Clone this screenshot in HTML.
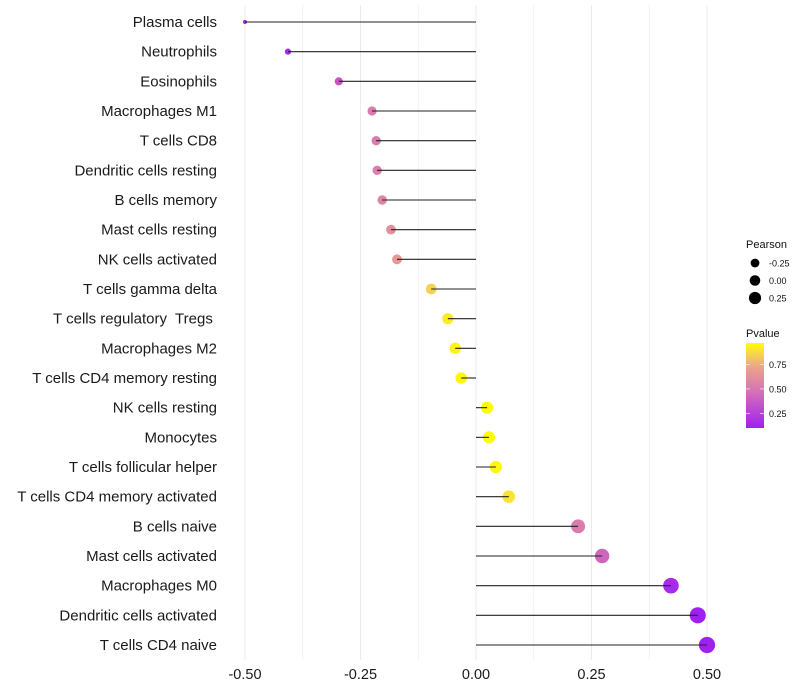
<!DOCTYPE html>
<html><head><meta charset="utf-8"><style>
body{margin:0;background:#fff;font-family:"Liberation Sans",Arial,sans-serif}
svg{display:block}
text{white-space:pre}
</style></head><body>
<svg id="chart" width="800" height="700"></svg>
<script>
const cells=["Plasma cells","Neutrophils","Eosinophils","Macrophages M1","T cells CD8","Dendritic cells resting","B cells memory","Mast cells resting","NK cells activated","T cells gamma delta","T cells regulatory  Tregs ","Macrophages M2","T cells CD4 memory resting","NK cells resting","Monocytes","T cells follicular helper","T cells CD4 memory activated","B cells naive","Mast cells activated","Macrophages M0","Dendritic cells activated","T cells CD4 naive"];
const pearson=[-0.50,-0.407,-0.297,-0.225,-0.216,-0.214,-0.203,-0.184,-0.171,-0.097,-0.061,-0.045,-0.032,0.024,0.028,0.043,0.071,0.221,0.273,0.422,0.48,0.50];
const pvalue=[0.10,0.15,0.35,0.52,0.52,0.54,0.57,0.62,0.67,0.85,0.92,0.94,0.95,0.96,0.98,0.95,0.90,0.52,0.42,0.15,0.10,0.10];
const xTicks=[-0.5,-0.25,0,0.25,0.5];
const xTickLabels=["-0.50","-0.25","0.00","0.25","0.50"];
const sizeLegend=[-0.25,0,0.25];
const sizeLegendLabels=["-0.25","0.00","0.25"];
const pTicks=[0.25,0.5,0.75];
const pTickLabels=["0.25","0.50","0.75"];

const NS="http://www.w3.org/2000/svg";
const svg=document.getElementById('chart');
function mk(t,a,p){const e=document.createElementNS(NS,t);for(const k in a)e.setAttribute(k,a[k]);(p||svg).appendChild(e);return e;}
const x=v=>476+v*462;
const y=i=>22+i*(623/21);
const r=v=>Math.sqrt(Math.max(1,35+62*v));
const pMin=0.1,pMax=0.97;
function col(p){let t=(p-pMin)/(pMax-pMin);t=Math.max(0,Math.min(1,t));
 const s=[[0,[160,32,240]],[0.45,[216,118,178]],[0.7,[236,160,140]],[0.85,[245,205,90]],[1,[255,255,0]]];
 for(let i=1;i<s.length;i++){if(t<=s[i][0]){const a=s[i-1],b=s[i];const u=(t-a[0])/(b[0]-a[0]);
 const c=a[1].map((v,k)=>Math.round(v+(b[1][k]-v)*u));return `rgb(${c})`;}}return 'rgb(255,255,0)';}

for(let g=-0.5;g<=0.5001;g+=0.125){
 const l=mk('line',{x1:x(g),x2:x(g),y1:5,y2:660,stroke:'#ebebeb','stroke-width':Math.abs(g*4-Math.round(g*4))<1e-6?1:0.6});
 
 
}
cells.forEach((c,i)=>{
 const t=mk('text',{x:217,y:y(i)+5,'text-anchor':'end','font-size':15,fill:'#1a1a1a'});
 t.textContent=c;
 
 
 const pt=mk('circle',{cx:x(pearson[i]),cy:y(i),r:r(pearson[i]),fill:col(pvalue[i])});
 
 
 const seg=mk('line',{x1:x(0),x2:x(pearson[i]),y1:y(i),y2:y(i),stroke:'#222','stroke-width':1.1});
 
 
});
xTicks.forEach((v,i)=>{
 const t=mk('text',{x:x(v),y:679,'text-anchor':'middle','font-size':14.5,fill:'#1a1a1a'});
 t.textContent=xTickLabels[i];
 
 
});
const lt=mk('text',{x:746,y:248,'font-size':11,fill:'#111'});lt.textContent='Pearson';


const lr=[4.4,5.3,6.1];
sizeLegend.forEach((v,i)=>{
 const cy=263+i*17.5;
 const c=mk('circle',{cx:755,cy:cy,r:Math.min(r(v),lr[i]),fill:'#000'});
 
 
 const t=mk('text',{x:769,y:cy+3.5,'font-size':9,fill:'#111'});t.textContent=sizeLegendLabels[i];
 
 
});
const pt2=mk('text',{x:746,y:337,'font-size':11,fill:'#111'});pt2.textContent='Pvalue';


const defs=mk('defs',{});const gr=mk('linearGradient',{id:'pg',x1:0,y1:1,x2:0,y2:0},defs);
for(let k=0;k<=20;k++){mk('stop',{offset:k/20,'stop-color':col(pMin+(pMax-pMin)*k/20)},gr);}
const cbTop=343,cbBot=428;
const py=p=>cbBot-(p-pMin)/(pMax-pMin)*(cbBot-cbTop);
const cb=mk('rect',{x:746,y:cbTop,width:18,height:cbBot-cbTop,fill:'url(#pg)'});


pTicks.forEach((p,i)=>{
 mk('line',{x1:746,x2:750,y1:py(p),y2:py(p),stroke:'#fff','stroke-width':0.6});
 mk('line',{x1:760,x2:764,y1:py(p),y2:py(p),stroke:'#fff','stroke-width':0.6});
 const t=mk('text',{x:769,y:py(p)+3.5,'font-size':9,fill:'#111'});t.textContent=pTickLabels[i];
 
 
});
</script>
</body></html>
